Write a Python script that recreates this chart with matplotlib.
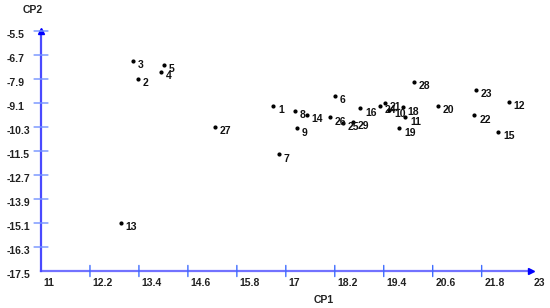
import matplotlib
matplotlib.use('Agg')
import matplotlib.pyplot as plt

# sample scores on the first two principal components
labels = ['1', '2', '3', '4', '5', '6', '7', '8', '9', '10',
          '11', '12', '13', '14', '15', '16', '18', '19', '20', '21',
          '22', '23', '24', '25', '26', '27', '28', '29']
cp1 = [16.69, 13.37, 13.26, 13.95, 14.01, 18.20, 16.83, 17.23, 17.28, 19.54,
       19.93, 22.47, 12.95, 17.51, 22.21, 18.82, 19.86, 19.78, 20.72, 19.43,
       21.62, 21.66, 19.31, 18.39, 18.08, 15.26, 20.14, 18.65]
cp2 = [-9.23, -7.91, -6.99, -7.55, -7.20, -8.73, -11.67, -9.48, -10.37, -9.45,
       -9.82, -9.04, -15.08, -9.70, -10.54, -9.37, -9.32, -10.37, -9.24, -9.08,
       -9.72, -8.44, -9.25, -10.08, -9.82, -10.29, -8.05, -10.05]

xticks = [11, 12.2, 13.4, 14.6, 15.8, 17, 18.2, 19.4, 20.6, 21.8, 23]
yticks = [-5.5, -6.7, -7.9, -9.1, -10.3, -11.5, -12.7, -13.9, -15.1, -16.3, -17.5]

plt.rcParams['font.family'] = ['Liberation Sans', 'DejaVu Sans']

fig = plt.figure(figsize=(5.5, 3.08), dpi=100)
ax = fig.add_axes([0, 0, 1, 1])
ax.set_xlim(9.995, 23.475)
ax.set_ylim(-19.35, -3.95)
ax.axis('off')

x0, x1 = min(xticks), max(xticks)
y0, y1 = min(yticks), max(yticks)
line_col = '#7272ff'
tick_col = '#3f6cff'

# axes lines
ax.plot([x0, x1], [y0, y0], color=line_col, lw=1.6, zorder=1)
ax.plot([x0, x0], [y0, y1], color='#4a4aff', lw=1.6, zorder=1)
ax.plot([x1], [y0], marker='>', color='#0000ff', ms=5, zorder=2)
ax.plot([x0], [y1], marker='^', color='#0000ff', ms=5, zorder=2)

# ticks crossing the axes
for t in xticks[1:-1]:
    ax.annotate('', xy=(t, y0), xytext=(0, 4), textcoords='offset points',
                arrowprops=dict(arrowstyle='-', color=tick_col, lw=1.0,
                                shrinkA=0, shrinkB=0))
    ax.annotate('', xy=(t, y0), xytext=(0, -4), textcoords='offset points',
                arrowprops=dict(arrowstyle='-', color=tick_col, lw=1.0,
                                shrinkA=0, shrinkB=0))
for t in yticks[:-1]:
    ax.annotate('', xy=(x0, t), xytext=(5, 0), textcoords='offset points',
                arrowprops=dict(arrowstyle='-', color='#7090ff', lw=1.0,
                                shrinkA=0, shrinkB=0))
    ax.annotate('', xy=(x0, t), xytext=(-5, 0), textcoords='offset points',
                arrowprops=dict(arrowstyle='-', color='#7090ff', lw=1.0,
                                shrinkA=0, shrinkB=0))

# tick labels
for t in xticks:
    ax.annotate('%g' % t, xy=(t, y0), xytext=(2, -9), textcoords='offset points',
                ha='left', va='center', fontsize=7.5, fontweight='bold', color='#222222')
for t in yticks:
    ax.annotate('%g' % t, xy=(x0, t), xytext=(-25, -3), textcoords='offset points',
                ha='left', va='center', fontsize=7.5, fontweight='bold', color='#222222')

ax.annotate('CP1', xy=(x0, y0), xytext=(196, -21), textcoords='offset points',
            ha='left', va='center', fontsize=7.5, fontweight='bold', color='#222222')
ax.annotate('CP2', xy=(x0, y1), xytext=(-13, 15), textcoords='offset points',
            ha='left', va='center', fontsize=7.5, fontweight='bold', color='#222222')

# points
ax.plot(cp1, cp2, 'o', color='black', ms=2.0, zorder=3)
for lab, x, y in zip(labels, cp1, cp2):
    ax.annotate(lab, xy=(x, y), xytext=(3.5, -3), textcoords='offset points',
                ha='left', va='center', fontsize=7.5, fontweight='bold', color='#111111')

fig.savefig('out.png', dpi=100)
